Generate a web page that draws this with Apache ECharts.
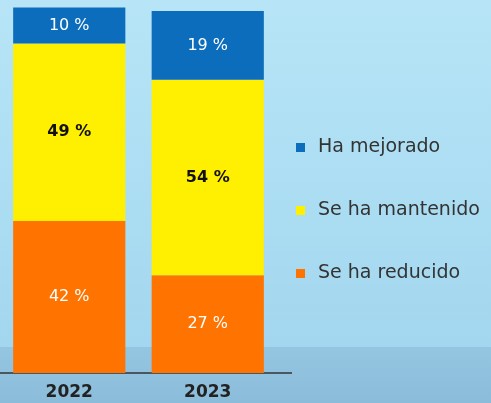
<!DOCTYPE html>
<html>
<head>
<meta charset="utf-8">
<script src="https://cdn.jsdelivr.net/npm/echarts@6/dist/echarts.min.js"></script>
<style>
  html,body{margin:0;padding:0;}
  #main{width:491px;height:403px;}
</style>
</head>
<body>
<div id="main"></div>
<script>
// datos
var years = ['2022', '2023'];
var reducido = [42, 27];
var mantenido = [49, 54];
var mejorado = [10, 19];

var chart = echarts.init(document.getElementById('main'));
var font = 'DejaVu Sans';

function lbl(color, bold, size) {
  return {
    show: true,
    position: 'inside',
    formatter: '{c} %',
    color: color,
    fontFamily: font,
    fontWeight: bold ? 'bold' : 'normal',
    fontSize: size
  };
}

chart.setOption({
  backgroundColor: {
    type: 'linear', x: 0, y: 0, x2: 0, y2: 1,
    colorStops: [
      {offset: 0, color: '#b7e5f7'},
      {offset: 0.86, color: '#a3d7ef'},
      {offset: 0.861, color: '#94c5e1'},
      {offset: 1, color: '#8bbcd9'}
    ]
  },
  animation: false,
  grid: {left: -2, width: 279, top: 11, bottom: 30},
  legend: {
    orient: 'vertical',
    left: 291,
    top: 133,
    itemGap: 44,
    itemWidth: 9,
    itemHeight: 9,
    icon: 'rect',
    textStyle: {fontFamily: font, fontSize: 19, color: '#333', padding: [0, 0, 0, 8]},
    data: ['Ha mejorado', 'Se ha mantenido', 'Se ha reducido']
  },
  xAxis: {
    type: 'category',
    data: years,
    axisTick: {show: false},
    axisLine: {show: false},
    axisLabel: {color: '#222', fontFamily: font, fontWeight: 'bold', fontSize: 17, margin: 11}
  },
  yAxis: {type: 'value', min: 0, max: 100, show: false},
  graphic: [{
    type: 'line',
    shape: {x1: 0, y1: 373, x2: 292, y2: 373},
    style: {stroke: '#333', lineWidth: 1.5}
  }],
  series: [
    {name: 'Se ha reducido', type: 'bar', stack: 't', data: reducido, barCategoryGap: '19%', clip: false,
     itemStyle: {color: '#ff7300'}, label: lbl('#ffffff', false, 16)},
    {name: 'Se ha mantenido', type: 'bar', stack: 't', data: mantenido, clip: false,
     itemStyle: {color: '#ffef00'}, label: lbl('#111111', true, 16)},
    {name: 'Ha mejorado', type: 'bar', stack: 't', data: mejorado, clip: false,
     itemStyle: {color: '#0b6dbb'}, label: lbl('#ffffff', false, 16)}
  ]
});
</script>
</body>
</html>
